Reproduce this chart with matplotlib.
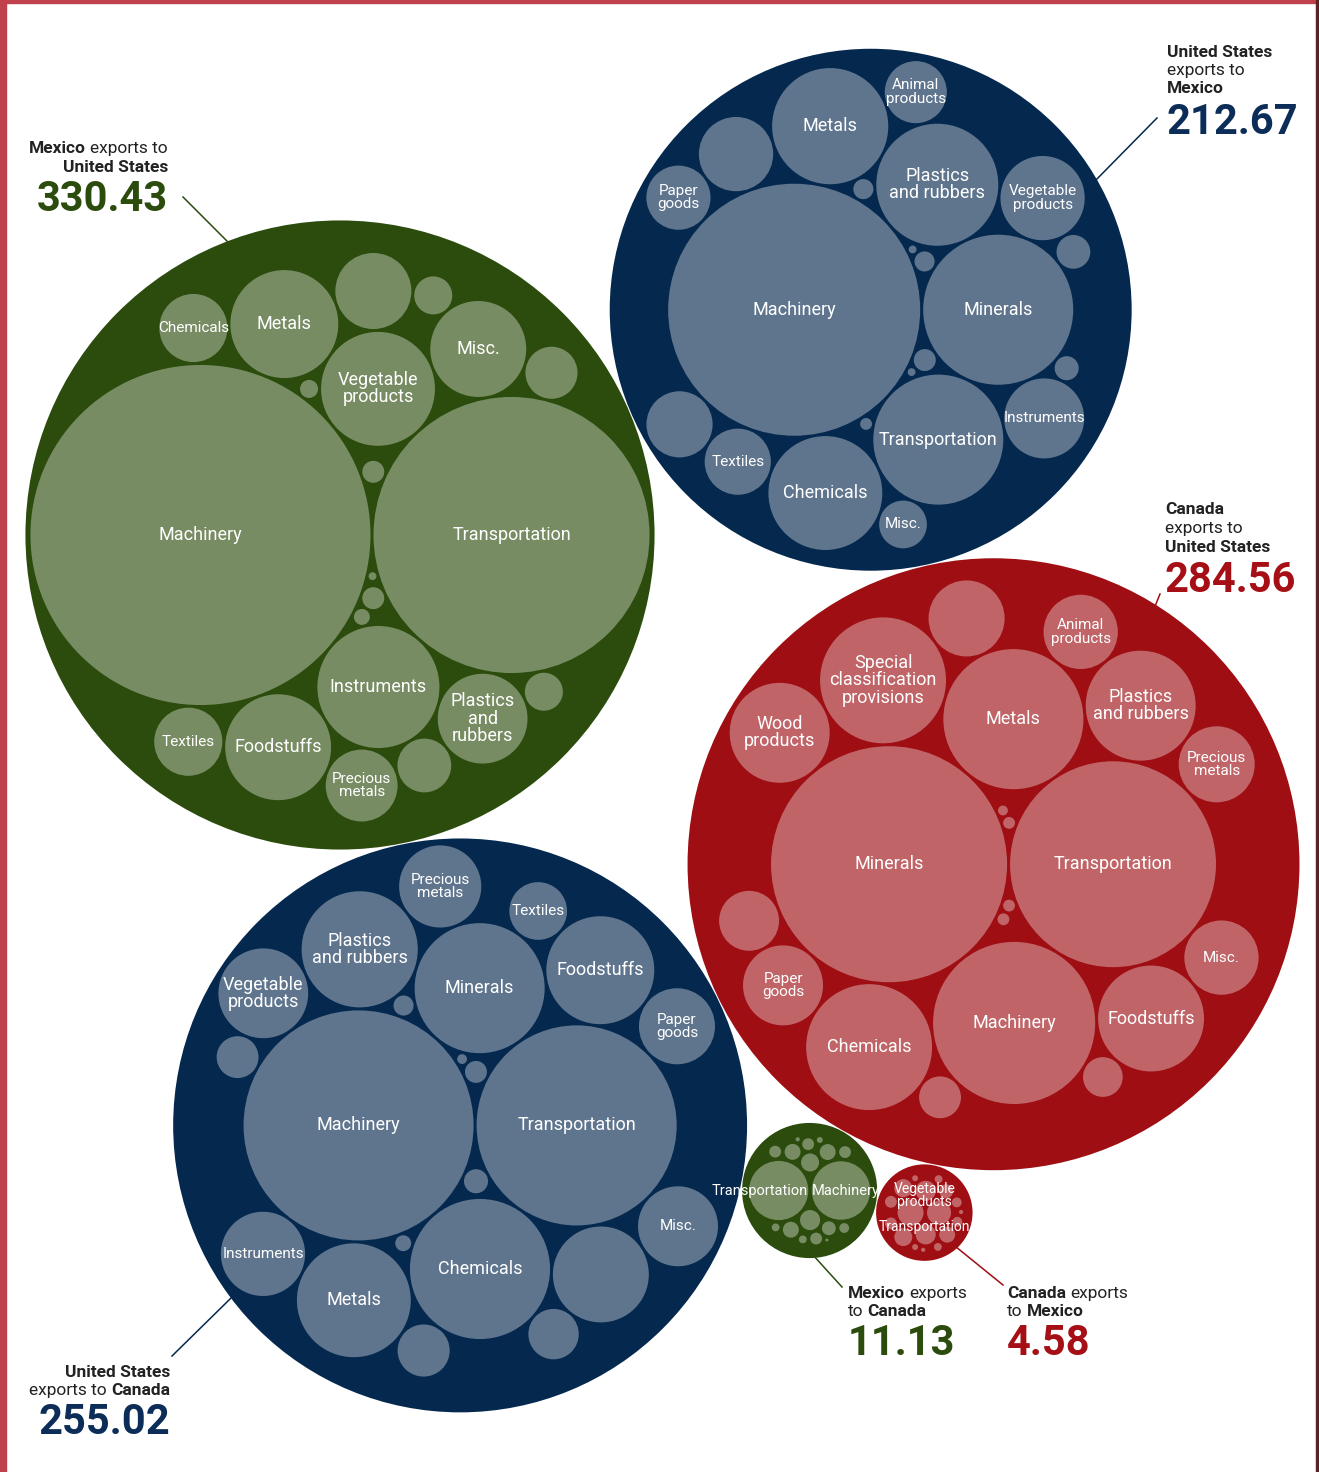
import numpy as np
import matplotlib.pyplot as plt
from matplotlib.patches import Circle, Rectangle

plt.rcParams['font.family'] = ['Roboto', 'DejaVu Sans']

# ---- data (billions of USD) ----
mx_us_labels = ["Machinery", "Transportation", "Instruments", "Vegetable\nproducts", "Metals",
                "Foodstuffs", "Misc.", "Plastics\nand\nrubbers", "Precious\nmetals", "Chemicals",
                "Textiles", "", "", "", "", "", "", "", "", "", ""]
mx_us_values = [132.0, 87.0, 17.0, 14.8, 13.3, 12.8, 10.5, 9.2, 5.9, 5.3,
                5.3, 6.6, 3.3, 3.1, 1.65, 1.65, 0.55, 0.55, 0.37, 0.29, 0.07]

us_mx_labels = ["Machinery", "Minerals", "Transportation", "Plastics\nand rubbers", "Metals",
                "Chemicals", "Vegetable\nproducts", "Instruments", "Textiles", "Paper\ngoods",
                "Animal\nproducts", "Misc.", "", "", "", "", "", "", "", "", "", ""]
us_mx_values = [72.5, 25.7, 19.3, 17.0, 15.4, 14.8, 8.1, 7.3, 5.0, 4.7, 4.4, 2.6,
                6.3, 5.0, 1.3, 0.66, 0.55, 0.46, 0.46, 0.16, 0.07, 0.07]

ca_us_labels = ["Minerals", "Transportation", "Machinery", "Metals",
                "Special\nclassification\nprovisions", "Chemicals", "Plastics\nand rubbers",
                "Foodstuffs", "Wood\nproducts", "Paper\ngoods", "Precious\nmetals", "Misc.",
                "Animal\nproducts", "", "", "", "", "", "", "", ""]
ca_us_values = [63.6, 48.4, 30.0, 22.4, 18.1, 18.1, 13.8, 12.8, 11.4, 7.3, 6.6, 6.3, 6.3,
                6.6, 4.1, 2.0, 1.8, 0.16, 0.16, 0.16, 0.11]

us_ca_labels = ["Machinery", "Transportation", "Chemicals", "Minerals", "Plastics\nand rubbers",
                "Metals", "Foodstuffs", "Vegetable\nproducts", "Instruments", "Precious\nmetals",
                "Misc.", "Paper\ngoods", "Textiles", "", "", "", "", "", "", "", "", ""]
us_ca_values = [60.4, 45.7, 22.4, 19.3, 15.4, 14.8, 13.3, 9.2, 8.1, 7.7, 7.3, 6.6, 3.8,
                10.5, 3.1, 2.9, 2.0, 0.66, 0.55, 0.46, 0.29, 0.11]

mx_ca_labels = ["Transportation", "Machinery"] + [""] * 16
mx_ca_values = [4.0, 3.9, 0.46, 0.37, 0.29, 0.29, 0.29, 0.22, 0.16, 0.16, 0.16, 0.16,
                0.11, 0.07, 0.07, 0.04, 0.02, 0.01]

ca_mx_labels = ["Transportation", "Vegetable\nproducts"] + [""] * 16
ca_mx_values = [0.77, 0.66, 0.46, 0.46, 0.37, 0.37, 0.29, 0.22, 0.16, 0.16, 0.11, 0.11,
                0.07, 0.07, 0.04, 0.04, 0.02, 0.02]

totals = ["330.43", "212.67", "284.56", "255.02", "11.13", "4.58"]

GREEN, NAVY, RED = "#2b4c0c", "#05284e", "#9e0e13"
NUM_GREEN, NUM_NAVY, NUM_RED = "#2b4c0c", "#0b2d57", "#a50f15"

AREA = 219.0   # px^2 per billion
PAD = 3.0
MARGIN = 5.0
GAP = 1.0


def tangent(c1, a1, c2, a2):
    # points at distance a1 from c1 and a2 from c2
    d = np.hypot(*(c2 - c1))
    if d == 0 or d > a1 + a2 or d < abs(a1 - a2):
        return []
    x = (a1 ** 2 - a2 ** 2 + d ** 2) / (2 * d)
    h = np.sqrt(max(a1 ** 2 - x ** 2, 0))
    u = (c2 - c1) / d
    base = c1 + x * u
    perp = np.array([-u[1], u[0]])
    return [base + h * perp, base - h * perp]


def pack(values, pad=PAD, margin=MARGIN):
    r = np.sqrt(np.asarray(values) * AREA)
    order = np.argsort(-r, kind="stable")
    pos = np.zeros((len(r), 2))
    i0, i1 = order[0], order[1]
    pos[i1] = (r[i0] + r[i1] + pad, 0)
    placed = [i0, i1]
    target = np.array([(-r[i0] + pos[i1][0] + r[i1]) / 2, 0.0])
    for k in order[2:]:
        best, best_s = None, np.inf
        for a in range(len(placed)):
            for b in range(a + 1, len(placed)):
                ia, ib = placed[a], placed[b]
                for p in tangent(pos[ia], r[ia] + pad + r[k], pos[ib], r[ib] + pad + r[k]):
                    d = np.hypot(*(pos[placed] - p).T)
                    if np.all(d >= r[placed] + r[k] + pad - 1e-6):
                        s = np.hypot(*(p - target)) + r[k] - 1e-6 * p[1]
                        if s < best_s:
                            best, best_s = p, s
        pos[k] = best
        placed.append(k)
    pos = pos - target
    R = np.max(np.hypot(*pos.T) + r) + margin
    return pos, r, R


groups = [
    (mx_us_labels, mx_us_values, GREEN),
    (us_mx_labels, us_mx_values, NAVY),
    (ca_us_labels, ca_us_values, RED),
    (us_ca_labels, us_ca_values, NAVY),
    (mx_ca_labels, mx_ca_values, GREEN),
    (ca_mx_labels, ca_mx_values, RED),
]
label_mode = [None, None, None, None, "side", "stack"]
packed = [pack(g[1]) if i < 4 else pack(g[1], pad=3.5, margin=7)
          for i, g in enumerate(groups)]
R = [p[2] for p in packed]


def unit(deg):
    t = np.deg2rad(deg)
    return np.array([np.cos(t), np.sin(t)])


# top level arrangement: each group tangent to its neighbours
centers = [None] * 6
centers[0] = np.array([340.0, 535.0])
centers[1] = centers[0] + (R[0] + R[1] + GAP) * unit(-23)
centers[3] = centers[0] + (R[0] + R[3] + GAP) * unit(78.5)
cand = tangent(centers[1], R[1] + R[2] + GAP, centers[3], R[3] + R[2] + GAP)
centers[2] = max(cand, key=lambda p: np.hypot(*(p - centers[0])))
cand = tangent(centers[3], R[3] + R[4] + GAP, centers[2], R[2] + R[4] + GAP)
centers[4] = max(cand, key=lambda p: p[1])
cand = tangent(centers[2], R[2] + R[5] + GAP, centers[4], R[4] + R[5] + GAP)
centers[5] = max(cand, key=lambda p: np.hypot(*(p - centers[3])))

W, H = 1319, 1472
fig = plt.figure(figsize=(W / 100, H / 100), dpi=100)
ax = fig.add_axes([0, 0, 1, 1])
ax.set_xlim(0, W)
ax.set_ylim(H, 0)
ax.axis("off")

for gi, ((labels, values, color), (pos, r, Rg), c) in enumerate(zip(groups, packed, centers)):
    ax.add_patch(Circle(c, Rg, facecolor=color, lw=0, zorder=1))
    for lab, p, rr in zip(labels, pos, r):
        ax.add_patch(Circle(c + p, rr, facecolor=(1, 1, 1, 0.36), lw=0, zorder=2))
    named = [i for i, lab in enumerate(labels) if lab]
    if label_mode[gi] == "side":
        # two neighbours side by side: push the texts apart
        named.sort(key=lambda i: pos[i][0])
        for i, ha in zip(named, ["right", "left"]):
            x = c[0] + pos[i][0] + (r[i] if ha == "right" else -r[i])
            ax.text(x, c[1] + pos[i][1], labels[i], ha=ha, va="center", color="white",
                    fontsize=10.5, zorder=3)
    elif label_mode[gi] == "stack":
        named.sort(key=lambda i: values[i])
        for i, dy in zip(named, [-17, 14]):
            ax.text(c[0], c[1] + dy, labels[i], ha="center", va="center", color="white",
                    fontsize=10, linespacing=0.9, zorder=3)
    else:
        for i in named:
            fs = 13 if r[i] >= 44 else 11
            ax.text(c[0] + pos[i][0], c[1] + pos[i][1], labels[i], ha="center", va="center",
                    color="white", fontsize=fs, linespacing=0.95, zorder=3)

# ---- annotations ----
renderer = fig.canvas.get_renderer()


def text_w(s, bold, size):
    t = ax.text(0, 0, s, fontsize=size, fontweight="bold" if bold else "normal")
    w = t.get_window_extent(renderer).width
    t.remove()
    return w


def rich_line(x, y, runs, ha, size=12.5, color="#222222"):
    space = text_w("x x", False, size) - text_w("xx", False, size)
    widths = [text_w(s, b, size) for s, b in runs]
    total = sum(widths) + space * (len(runs) - 1)
    xx = x - total if ha == "right" else x
    for (s, b), w in zip(runs, widths):
        ax.text(xx, y, s, fontsize=size, fontweight="bold" if b else "normal",
                color=color, ha="left", va="baseline")
        xx += w + space


annots = [
    # (group, x, ha, [(baseline, runs)], number baseline, number color, edge angle, line end)
    (0, 168, "right", [(153, [("Mexico", True), ("exports to", False)]),
                       (172, [("United States", True)])], 211, NUM_GREEN, -111, (183, 197)),
    (1, 1167, "left", [(57, [("United States", True)]), (75, [("exports to", False)]),
                       (93, [("Mexico", True)])], 134, NUM_NAVY, -30, (1157, 118)),
    (2, 1165, "left", [(514, [("Canada", True)]), (533, [("exports to", False)]),
                       (552, [("United States", True)])], 592, NUM_RED, -58, (1160, 594)),
    (3, 170, "right", [(1377, [("United States", True)]),
                       (1395, [("exports to", False), ("Canada", True)])], 1434, NUM_NAVY, 143, (172, 1356)),
    (4, 848, "left", [(1298, [("Mexico", True), ("exports", False)]),
                      (1316, [("to", False), ("Canada", True)])], 1355, NUM_GREEN, 85, (842, 1287)),
    (5, 1007, "left", [(1298, [("Canada", True), ("exports", False)]),
                       (1316, [("to", False), ("Mexico", True)])], 1355, NUM_RED, 47, (1003, 1285)),
]

for gi, x, ha, lines, nb, ncol, ang, end in annots:
    for yb, runs in lines:
        rich_line(x, yb, runs, ha)
    ax.text(x, nb, totals[gi], fontsize=30, fontweight="bold", color=ncol, ha=ha, va="baseline")
    start = centers[gi] + R[gi] * unit(ang)
    ax.plot([start[0], end[0]], [start[1], end[1]], color=groups[gi][2], lw=1.1, zorder=0)

# frame
fig.patches.append(Rectangle((0, 0), 6 / W, 1, transform=fig.transFigure, color="#c0404b", zorder=5))
fig.patches.append(Rectangle((0, 1 - 3 / H), 1, 3 / H, transform=fig.transFigure, color="#c0404b", zorder=5))
fig.patches.append(Rectangle((1316 / W, 0), 2 / W, 1, transform=fig.transFigure, color="#5a2222", zorder=5))

fig.savefig("out.png", dpi=100, facecolor="white")
